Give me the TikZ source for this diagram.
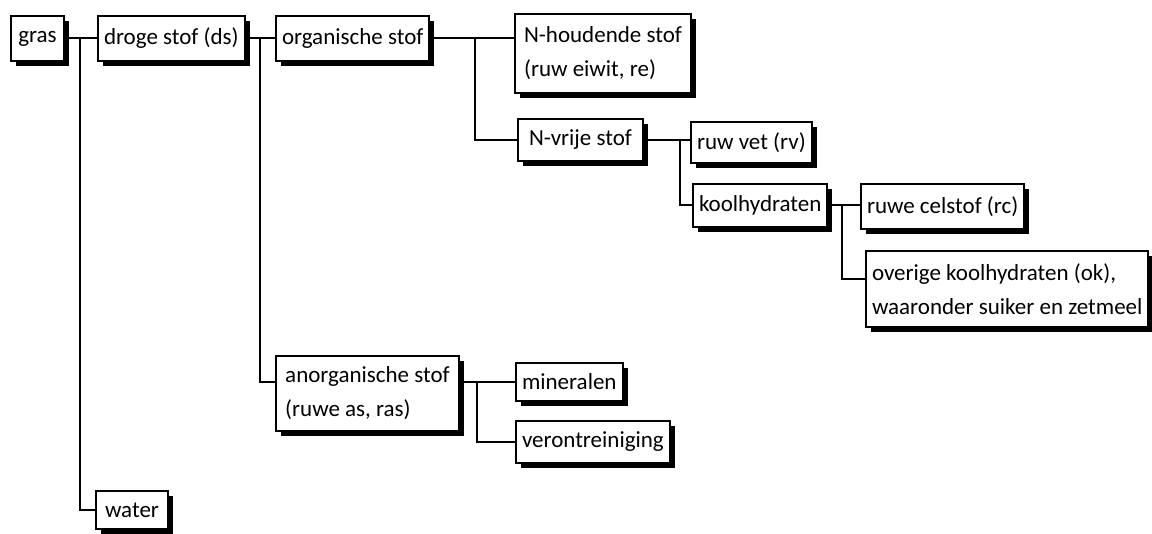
\documentclass[tikz,border=0pt]{standalone}
\usepackage{fontspec}
\setmainfont{Carlito}
\usepackage{tikz}
\usetikzlibrary{shadows}
\tikzstyle{kader} = [draw, line width=1pt, fill=white, anchor=north west, align=left, inner sep=3pt, font=\fontsize{11.5}{17}\selectfont, drop shadow={shadow xshift=2.5pt, shadow yshift=-2.5pt, fill=black, opacity=1}]
\tikzstyle{lijn} = [line width=1pt]

\begin{document}
\begin{tikzpicture}[x=0.5pt, y=-0.5pt]
    \useasboundingbox (0,0) rectangle (1152,534);

    % vakken
    \node[kader, minimum width=26.5pt, minimum height=22.5pt] (gras) at (10,15) {gras};
    \node[kader, minimum width=72.5pt, minimum height=22.5pt] (droge) at (97,15) {droge stof (ds)};
    \node[kader, minimum width=76.5pt, minimum height=22.5pt] (organ) at (275,15) {organische stof};
    \node[kader, minimum width=88pt, minimum height=39.5pt] (nhoud) at (514,13) {N-houdende stof\\(ruw eiwit, re)};
    \node[kader, minimum width=62.5pt, minimum height=21pt] (nvrij) at (517,118) {N-vrije stof};
    \node[kader, minimum width=57.5pt, minimum height=20.5pt] (ruwvet) at (690,121) {ruw vet (rv)};
    \node[kader, minimum width=63pt, minimum height=21.5pt] (kool) at (692,183) {koolhydraten};
    \node[kader, minimum width=76pt, minimum height=22.5pt] (celstof) at (860,183) {ruwe celstof (rc)};
    \node[kader, minimum width=140pt, minimum height=38pt] (overige) at (865,250) {overige koolhydraten (ok),\\waaronder suiker en zetmeel};
    \node[kader, minimum width=91.5pt, minimum height=37.5pt] (anorg) at (275,355) {anorganische stof\\(ruwe as, ras)};
    \node[kader, minimum width=50pt, minimum height=19pt] (mineralen) at (515,362) {mineralen};
    \node[kader, minimum width=66.5pt, minimum height=21pt] (veront) at (515,420) {verontreiniging};
    \node[kader, minimum width=36pt, minimum height=19pt] (water) at (95,490) {water};

    % vertakkingen
    \coordinate (t1) at (80,0);
    \coordinate (t2) at (260,0);
    \coordinate (t3) at (475,0);
    \coordinate (t4) at (680,0);
    \coordinate (t5) at (842,0);
    \coordinate (t6) at (477,0);

    \draw[lijn] (gras.east) -- (droge.west);
    \draw[lijn] (gras.east -| t1) |- (water.west);

    \draw[lijn] (droge.east) -- (organ.west);
    \draw[lijn] (droge.east -| t2) |- (anorg.west |- mineralen.west);

    \draw[lijn] (organ.east) -- (organ.east -| nhoud.west);
    \draw[lijn] (organ.east -| t3) |- (nvrij.west);

    \draw[lijn] (nvrij.east) -- (nvrij.east -| ruwvet.west);
    \draw[lijn] (nvrij.east -| t4) |- (kool.west);

    \draw[lijn] (kool.east) -- (kool.east -| celstof.west);
    \draw[lijn] (kool.east -| t5) |- ([yshift=5pt]overige.west);

    \draw[lijn] (anorg.east |- mineralen.west) -- (mineralen.west);
    \draw[lijn] (mineralen.west -| t6) |- (veront.west);
\end{tikzpicture}
\end{document}
